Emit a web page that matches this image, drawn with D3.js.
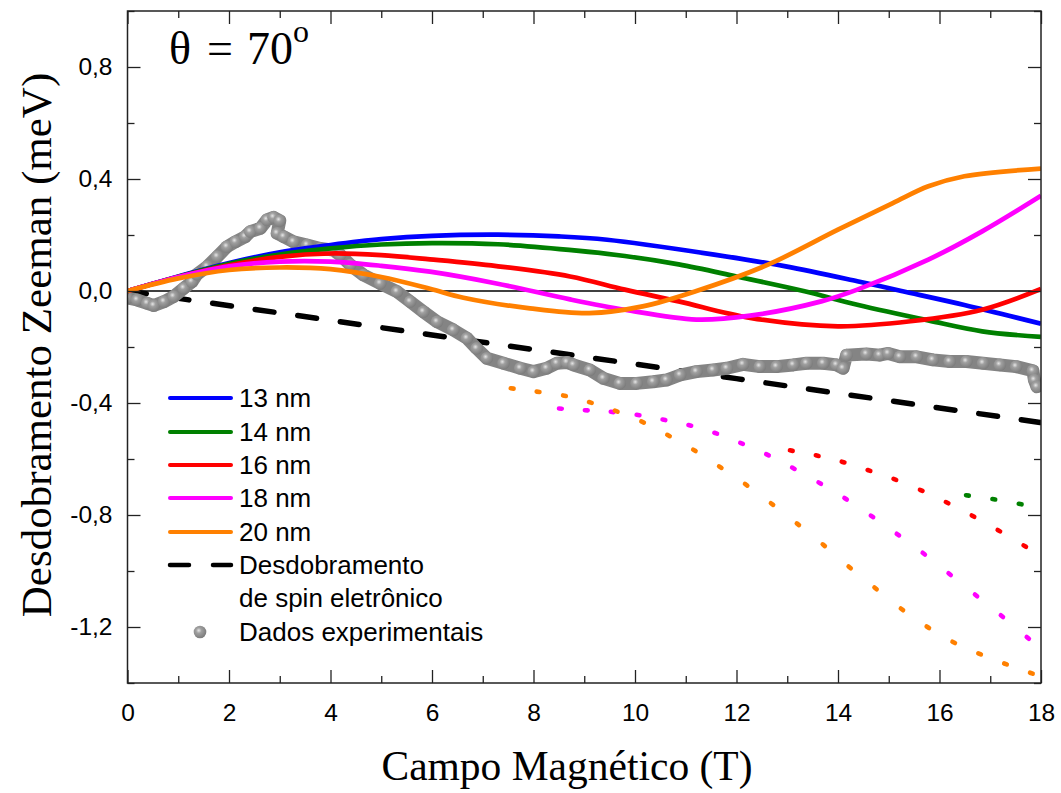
<!DOCTYPE html>
<html><head><meta charset="utf-8">
<script src="https://cdn.jsdelivr.net/npm/d3@7"></script>
<style>body{margin:0;background:#fff}</style>
</head><body>
<svg id="chart" width="1061" height="793"></svg>
<script>
// ---------- DATA ----------
const seriesNames = ["13 nm", "14 nm", "16 nm", "18 nm", "20 nm"];
const seriesColors = ["#0000ff", "#008000", "#ff0000", "#ff00ff", "#ff8000"];

const curve13 = [[0,0],[1,0.052],[2,0.1],[3,0.138],[4,0.164],[5,0.185],[6,0.197],[7.3,0.201],[8.5,0.195],[9.45,0.183],[11.56,0.13],[12.97,0.088],[14.38,0.035],[15.25,0],[16.49,-0.05],[18,-0.117]];
const curve14 = [[0,0],[1,0.051],[2,0.097],[3,0.13],[4,0.152],[5,0.166],[6,0.171],[7.3,0.167],[8.7,0.147],[9.8,0.125],[10.86,0.095],[12.0,0.052],[13.32,0],[14.38,-0.049],[15.78,-0.105],[16.84,-0.144],[18,-0.164]];
const curve16 = [[0,0],[1,0.05],[2,0.092],[3,0.122],[4,0.134],[5,0.128],[5.96,0.113],[7.27,0.089],[8.72,0.052],[9.8,0.005],[10.86,-0.037],[12.27,-0.096],[14,-0.126],[15.43,-0.108],[16.84,-0.067],[18,0.007]];
const curve18 = [[0,0],[1,0.05],[2,0.088],[3,0.105],[4,0.105],[5,0.09],[5.96,0.069],[7.27,0.027],[8.72,-0.03],[9.8,-0.067],[11.21,-0.102],[12.27,-0.088],[13.67,-0.037],[14.38,0.005],[15.78,0.112],[16.84,0.213],[18,0.34]];
const curve20 = [[0,0],[1,0.045],[2,0.075],[3,0.084],[4,0.078],[5,0.05],[5.96,0.008],[6.62,-0.024],[7.93,-0.062],[9.1,-0.079],[10.15,-0.055],[11.21,0],[12.62,0.094],[14,0.219],[15.08,0.314],[15.78,0.374],[16.49,0.41],[18,0.437]];

// dotted branches (same colours)
const dots14 = [[16.55,-0.73],[17.07,-0.744],[17.59,-0.761]];
const dots16 = [[13.08,-0.570],[13.59,-0.588],[14.1,-0.611],[14.61,-0.641],[15.12,-0.673],[15.64,-0.712],[16.15,-0.756],[16.66,-0.804],[17.17,-0.856],[17.68,-0.911]];
const dots18 = [[8.53,-0.42],[9.04,-0.426],[9.55,-0.432],[10.06,-0.443],[10.57,-0.46],[11.08,-0.48],[11.59,-0.508],[12.1,-0.544],[12.61,-0.585],[13.12,-0.633],[13.64,-0.686],[14.15,-0.742],[14.67,-0.805],[15.18,-0.87],[15.69,-0.938],[16.2,-1.011],[16.72,-1.087],[17.23,-1.161],[17.74,-1.239]];
const dots20 = [[7.58,-0.348],[8.09,-0.36],[8.61,-0.374],[9.12,-0.398],[9.63,-0.429],[10.15,-0.468],[10.66,-0.516],[11.17,-0.569],[11.68,-0.629],[12.19,-0.692],[12.7,-0.761],[13.21,-0.833],[13.72,-0.908],[14.23,-0.987],[14.74,-1.062],[15.26,-1.137],[15.77,-1.201],[16.28,-1.255],[16.79,-1.296],[17.3,-1.332],[17.81,-1.365]];

const spinSplitting = [[0,0],[6,-0.157],[12,-0.313],[18,-0.47]];

const experimental = [[0.0,-0.025],[0.19,-0.032],[0.39,-0.044],[0.52,-0.052],[0.72,-0.038],[0.91,-0.02],[1.11,0.01],[1.27,0.033],[1.37,0.06],[1.57,0.087],[1.77,0.123],[1.96,0.158],[2.13,0.176],[2.32,0.194],[2.42,0.212],[2.62,0.224],[2.75,0.254],[2.88,0.263],[3.0,0.251],[2.95,0.206],[3.08,0.194],[3.27,0.176],[3.54,0.164],[3.8,0.152],[4.06,0.146],[4.19,0.129],[4.39,0.093],[4.65,0.057],[4.98,0.027],[5.31,-0.002],[5.57,-0.038],[5.83,-0.074],[6.1,-0.11],[6.42,-0.139],[6.69,-0.169],[6.88,-0.205],[7.08,-0.24],[7.41,-0.258],[7.74,-0.276],[8.0,-0.288],[8.26,-0.276],[8.46,-0.258],[8.66,-0.255],[8.79,-0.264],[9.11,-0.282],[9.38,-0.312],[9.7,-0.33],[10.03,-0.33],[10.36,-0.324],[10.62,-0.318],[10.89,-0.3],[11.21,-0.288],[11.54,-0.282],[11.81,-0.276],[12.13,-0.262],[12.46,-0.27],[12.79,-0.27],[13.12,-0.264],[13.38,-0.258],[13.71,-0.258],[13.97,-0.264],[14.1,-0.276],[14.17,-0.229],[14.56,-0.225],[14.82,-0.229],[14.99,-0.223],[15.22,-0.235],[15.55,-0.235],[15.87,-0.246],[16.2,-0.252],[16.53,-0.252],[16.86,-0.258],[17.19,-0.264],[17.51,-0.27],[17.84,-0.285],[17.87,-0.318],[17.92,-0.342]];

const xMajorTicks = [0,2,4,6,8,10,12,14,16,18];
const xMinorTicks = [1,3,5,7,9,11,13,15,17];
const yMajorTicks = [0.8,0.4,0,-0.4,-0.8,-1.2];
const yMinorTicks = [1.0,0.6,0.2,-0.2,-0.6,-1.0,-1.4];
const yTickLabels = ["0,8","0,4","0,0","-0,4","-0,8","-1,2"];
const legendLabels = ["13 nm","14 nm","16 nm","18 nm","20 nm","Desdobramento","de spin eletrônico","Dados experimentais"];

// ---------- CHART ----------
const svg = d3.select("#chart");
const L = 127.5, R = 1041, T = 11, B = 683;
const x = d3.scaleLinear().domain([0,18]).range([L,R]);
const y = d3.scaleLinear().domain([-1.4,1.0]).range([B,T]);

const defs = svg.append("defs");
const grad = defs.append("radialGradient").attr("id","ball").attr("cx","40%").attr("cy","38%").attr("r","62%");
grad.append("stop").attr("offset","0%").attr("stop-color","#e6e6e6");
grad.append("stop").attr("offset","35%").attr("stop-color","#a0a0a0");
grad.append("stop").attr("offset","100%").attr("stop-color","#7c7c7c");
defs.append("clipPath").attr("id","clip").append("rect").attr("x",L).attr("y",T).attr("width",R-L).attr("height",B-T);

const plot = svg.append("g").attr("clip-path","url(#clip)");

// zero line
plot.append("line").attr("x1",x(0)).attr("x2",x(18)).attr("y1",y(0)).attr("y2",y(0))
  .attr("stroke","#000").attr("stroke-width",1.3);

const line = d3.line().x(d=>x(d[0])).y(d=>y(d[1]));
const smooth = d3.line().x(d=>x(d[0])).y(d=>y(d[1])).curve(d3.curveCatmullRom.alpha(0.5));

// spin splitting dashed
plot.append("path").datum(spinSplitting).attr("d",line)
  .attr("fill","none").attr("stroke","#000").attr("stroke-width",5.5)
  .attr("stroke-dasharray","19 24").attr("stroke-linecap","round");

// experimental
const expG = plot.append("g");
expG.append("path").datum(experimental).attr("d",line)
  .attr("fill","none").attr("stroke","#848484").attr("stroke-width",13)
  .attr("stroke-linejoin","round").attr("stroke-linecap","round");
expG.selectAll("circle").data(experimental).join("circle")
  .attr("cx",d=>x(d[0])).attr("cy",d=>y(d[1])).attr("r",6.3)
  .attr("fill","url(#ball)");

// theory curves
const curves = [curve13, curve14, curve16, curve18, curve20];
curves.forEach((c,i)=>{
  plot.append("path").datum(c).attr("d",smooth)
    .attr("fill","none").attr("stroke",seriesColors[i]).attr("stroke-width",4.7)
    .attr("stroke-linejoin","round");
});

// dotted branches: short segments oriented along local direction
const dotSets = [[dots14,1],[dots16,2],[dots18,3],[dots20,4]];
dotSets.forEach(([pts,ci])=>{
  const g = plot.append("g");
  pts.forEach((p,i)=>{
    const a = pts[Math.max(0,i-1)], b = pts[Math.min(pts.length-1,i+1)];
    const dx = x(b[0])-x(a[0]), dy = y(b[1])-y(a[1]);
    const len = Math.hypot(dx,dy)||1, h = 1.4;
    const cx = x(p[0]), cy = y(p[1]);
    g.append("line").attr("x1",cx-dx/len*h).attr("y1",cy-dy/len*h)
      .attr("x2",cx+dx/len*h).attr("y2",cy+dy/len*h)
      .attr("stroke",seriesColors[ci]).attr("stroke-width",4.6).attr("stroke-linecap","round");
  });
});

// ---------- AXES ----------
const axisColor = "#222";
function styleAxis(g){ g.select(".domain").remove(); g.selectAll("line").attr("stroke",axisColor).attr("stroke-width",1.3); }
const sans = "'Liberation Sans', Arial, sans-serif";
const serif = "'Liberation Serif','Times New Roman',serif";

svg.append("g").attr("transform",`translate(0,${B})`)
  .call(d3.axisBottom(x).tickValues(xMajorTicks).tickSize(-13).tickPadding(21).tickFormat(d3.format("d")))
  .call(styleAxis)
  .call(g=>g.selectAll("text").attr("font-family",sans).attr("font-size",24.5).attr("fill","#000"));
svg.append("g").attr("transform",`translate(0,${B})`)
  .call(d3.axisBottom(x).tickValues(xMinorTicks).tickSize(-7).tickFormat(""))
  .call(styleAxis);
svg.append("g").attr("transform",`translate(0,${T})`)
  .call(d3.axisTop(x).tickValues(xMajorTicks).tickSize(-13).tickFormat(""))
  .call(styleAxis);
svg.append("g").attr("transform",`translate(0,${T})`)
  .call(d3.axisTop(x).tickValues(xMinorTicks).tickSize(-7).tickFormat(""))
  .call(styleAxis);

svg.append("g").attr("transform",`translate(${L},0)`)
  .call(d3.axisLeft(y).tickValues(yMajorTicks).tickSize(-13).tickPadding(15).tickFormat((d,i)=>yTickLabels[i]))
  .call(styleAxis)
  .call(g=>g.selectAll("text").attr("font-family",sans).attr("font-size",24.5).attr("fill","#000"));
svg.append("g").attr("transform",`translate(${L},0)`)
  .call(d3.axisLeft(y).tickValues(yMinorTicks).tickSize(-7).tickFormat(""))
  .call(styleAxis);
svg.append("g").attr("transform",`translate(${R},0)`)
  .call(d3.axisRight(y).tickValues(yMajorTicks).tickSize(-13).tickFormat(""))
  .call(styleAxis);
svg.append("g").attr("transform",`translate(${R},0)`)
  .call(d3.axisRight(y).tickValues(yMinorTicks).tickSize(-7).tickFormat(""))
  .call(styleAxis);

// frame
svg.append("rect").attr("x",L).attr("y",T).attr("width",R-L).attr("height",B-T)
  .attr("fill","none").attr("stroke",axisColor).attr("stroke-width",1.5);

// titles
svg.append("text").attr("x",567).attr("y",780).attr("text-anchor","middle")
  .attr("font-family",serif).attr("font-size",41.5).attr("fill","#000")
  .text("Campo Magnético (T)");
svg.append("text").attr("transform","translate(51,345) rotate(-90)").attr("text-anchor","middle")
  .attr("font-family",serif).attr("font-size",43).attr("fill","#000")
  .text("Desdobramento Zeeman (meV)");

const th = svg.append("text").attr("y",64)
  .attr("font-family",serif).attr("font-size",46).attr("fill","#000");
th.append("tspan").attr("x",169).text("θ");
th.append("tspan").attr("x",207).text("=");
th.append("tspan").attr("x",247).text("70");
th.append("tspan").attr("font-size",32).attr("dy",-22).text("o");

// ---------- LEGEND ----------
const lg = svg.append("g").attr("font-family",sans).attr("font-size",26).attr("fill","#000");
const rowY = [398,432,465,498,532,565,598,632];
seriesNames.forEach((n,i)=>{
  lg.append("line").attr("x1",170).attr("x2",231).attr("y1",rowY[i]).attr("y2",rowY[i])
    .attr("stroke",seriesColors[i]).attr("stroke-width",4).attr("stroke-linecap","round");
  lg.append("text").attr("x",239).attr("y",rowY[i]).attr("dy","0.36em").text(legendLabels[i]);
});
lg.append("line").attr("x1",170).attr("x2",231).attr("y1",rowY[5]).attr("y2",rowY[5])
  .attr("stroke","#000").attr("stroke-width",4.5).attr("stroke-dasharray","19 24").attr("stroke-linecap","round");
lg.append("text").attr("x",239).attr("y",rowY[5]).attr("dy","0.36em").text(legendLabels[5]);
lg.append("text").attr("x",239).attr("y",rowY[6]).attr("dy","0.36em").text(legendLabels[6]);
lg.append("circle").attr("cx",200).attr("cy",rowY[7]).attr("r",6.3).attr("fill","url(#ball)");
lg.append("text").attr("x",239).attr("y",rowY[7]).attr("dy","0.36em").text(legendLabels[7]);
</script>
</body></html>
